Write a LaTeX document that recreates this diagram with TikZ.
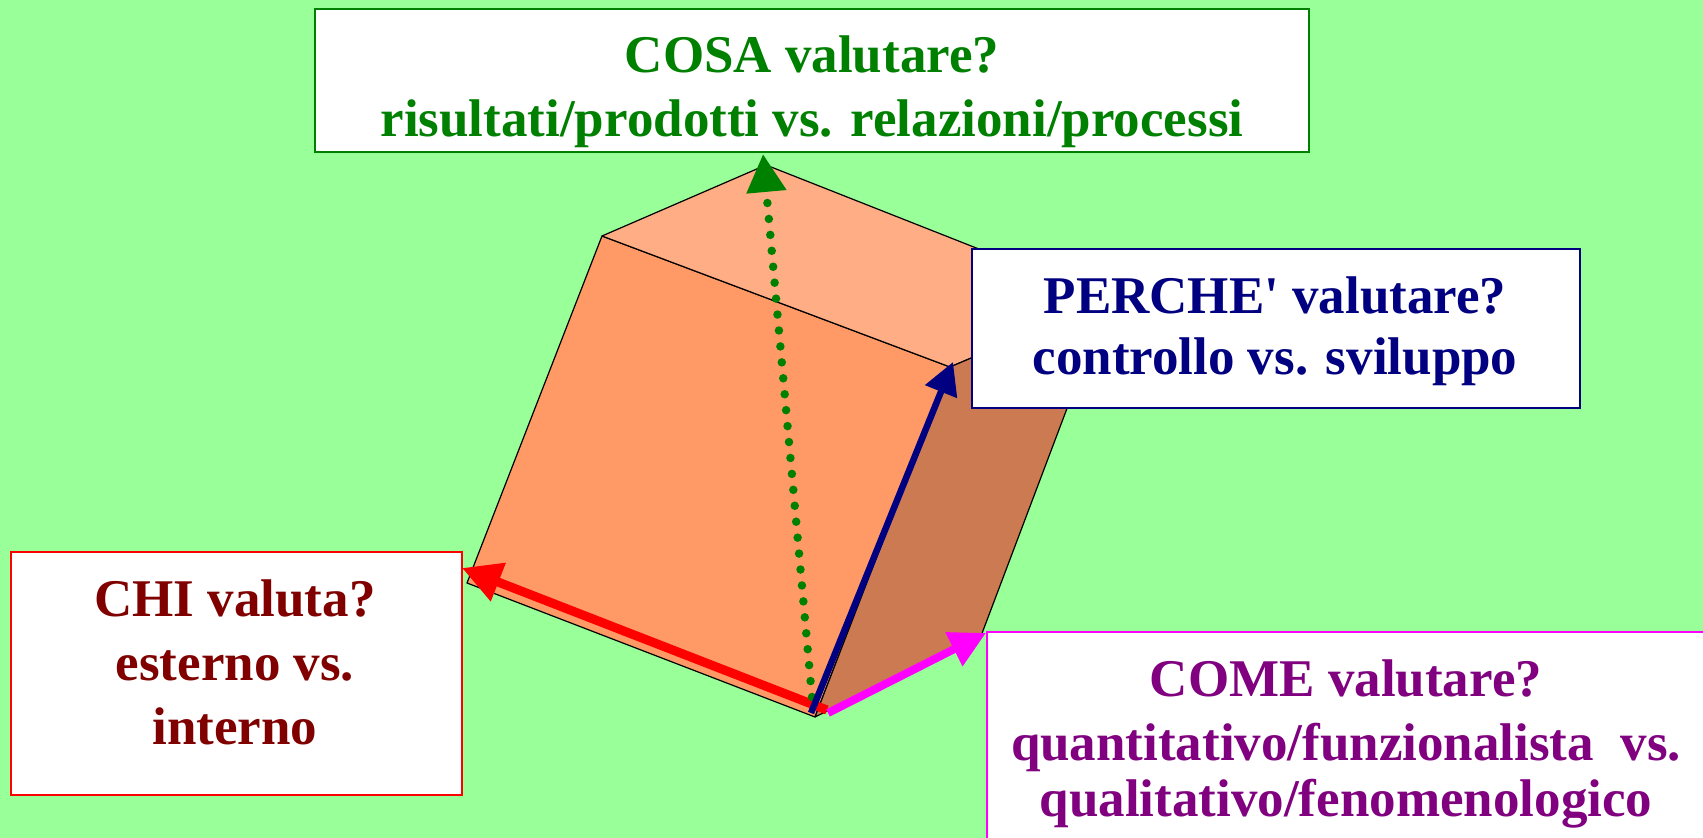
\documentclass[tikz,border=0pt]{standalone}
\usepackage{fontspec}
\setmainfont{Liberation Serif}[Ligatures=TeXOff]
\usepackage{tikz}
\usetikzlibrary{arrows.meta}

\definecolor{bgGreen}{RGB}{153,255,153}
\definecolor{faceTop}{RGB}{255,173,133}
\definecolor{faceFront}{RGB}{255,153,102}
\definecolor{faceSide}{RGB}{204,122,82}
\definecolor{cosaCol}{RGB}{0,128,0}
\definecolor{percheCol}{RGB}{0,0,128}
\definecolor{chiCol}{RGB}{128,0,0}
\definecolor{comeCol}{RGB}{128,0,128}
\definecolor{chiLine}{RGB}{255,0,0}
\definecolor{comeLine}{RGB}{255,0,255}

\begin{document}
\begin{tikzpicture}
  [x=0.5pt,y=-0.5pt,
   face/.style={fill=#1,draw=black,line width=0.6pt,line join=round},
   box/.style={draw=#1,fill=white,line width=0.75pt,inner sep=0pt},
   txt/.style={text=#1,inner sep=0pt,anchor=north,align=center,
     font=\fontsize{26.5}{32}\selectfont\bfseries},
   cosaArr/.style={draw=cosaCol,line width=4.25pt,line cap=round,
     dash pattern=on 0pt off 8pt,-{Triangle[length=19pt,width=19pt]}},
   percheArr/.style={draw=percheCol,line width=3.25pt,
     -{Triangle[length=16pt,width=16.5pt]}},
   chiArr/.style={draw=chiLine,line width=4.5pt,
     -{Triangle[length=19.5pt,width=19.5pt]}},
   comeArr/.style={draw=comeLine,line width=4pt,
     -{Triangle[length=18pt,width=18pt]}}]
  \clip (0,0) rectangle (1703,838);
  \fill[bgGreen] (0,0) rectangle (1703,838);

  % cube corners
  \coordinate (b)  at (815,717);
  \coordinate (l)  at (467,583);
  \coordinate (lt) at (602,236);
  \coordinate (t)  at (766,165);
  \coordinate (ft) at (950,367);
  \coordinate (rt) at (1108,300);
  \coordinate (rb) at (981,636);

  \draw[face=faceFront] (l) -- (lt) -- (ft) -- (b) -- cycle;
  \draw[face=faceTop] (lt) -- (t) -- (rt) -- (ft) -- cycle;
  \draw[face=faceSide] (ft) -- (rt) -- (rb) -- (b) -- cycle;

  % the four questions
  \node[box=cosaCol,minimum width=497pt,minimum height=71.5pt] (cosa) at (812,80.5) {};
  \node[txt=cosaCol] (cosaT) at (812,35)
    {COSA valutare?\\risultati/prodotti vs. relazioni/processi};
  \node[box=percheCol,minimum width=304pt,minimum height=79.5pt] (perche) at (1276,328.5) {};
  \node[txt=percheCol] (percheT) at (1275,276)
    {PERCHE' valutare?\\[-1.5pt]controllo vs. sviluppo};
  \node[box=chiLine,minimum width=225.5pt,minimum height=121.5pt] (chi) at (236.5,673.5) {};
  \node[txt=chiCol] (chiT) at (235,579)
    {CHI valuta?\\esterno vs.\\interno};
  \node[box=comeLine,line width=1pt,minimum width=359pt,minimum height=130pt] (come) at (1346,762) {};
  \node[txt=comeCol] (comeT) at (1346,659)
    {COME valutare?\\quantitativo/funzionalista\ \ vs.\\[-4pt]qualitativo/fenomenologico};

  % arrows out of the bottom corner
  \coordinate (rs) at (827,710);
  \coordinate (re) at (462,568);
  \coordinate (ms) at (828,713);
  \coordinate (me) at (986,633);
  \coordinate (gs) at (812,697);
  \coordinate (ge) at (763,154);
  \coordinate (bs) at (811,713);
  \coordinate (be) at (953,362);

  \foreach \from/\to/\sty in {rs/re/chiArr,ms/me/comeArr,gs/ge/cosaArr,bs/be/percheArr}
    \draw[\sty] (\from) -- (\to);

\end{tikzpicture}
\end{document}
